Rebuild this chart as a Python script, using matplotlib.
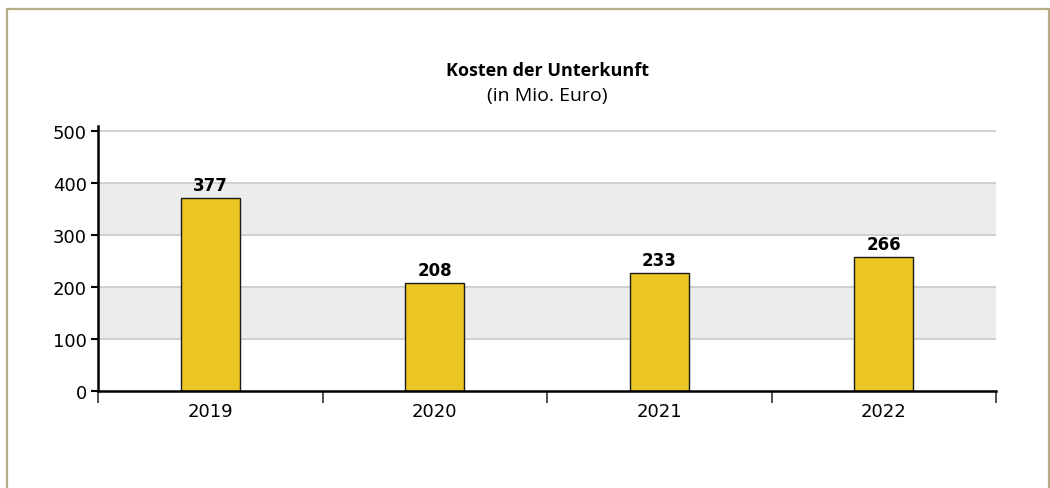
import matplotlib.pyplot as plt
from matplotlib.patches import Rectangle

# Kosten der Unterkunft (in Mio. Euro)
years = ['2019', '2020', '2021', '2022']
bar_heights = [371, 207, 227, 258]   # Balkenhoehe wie im Bild
value_labels = ['377', '208', '233', '266']
y_ticks = [0, 100, 200, 300, 400, 500]
bands = [(100, 200), (300, 400)]

fig = plt.figure(figsize=(10.5, 4.89), dpi=100)
ax = fig.add_axes([98 / 1050, 1 - 392 / 489, 898 / 1050, 265 / 489])

# Rahmen um die ganze Grafik
fig.patches.append(Rectangle((7 / 1050, -0.05), 1042 / 1050, 1 - 9.5 / 489 + 0.05,
                             transform=fig.transFigure, fill=False,
                             edgecolor='#b5ae84', linewidth=1.6))

for lo, hi in bands:
    ax.axhspan(lo, hi, color='#ebecec', zorder=0, lw=0)
for t in y_ticks[1:]:
    ax.axhline(t, color='#cdcdcd', lw=1.3, zorder=1)

x = range(len(years))
ax.bar(x, bar_heights, width=0.265, color='#eac523', edgecolor='#1a1a1a',
       linewidth=1.0, zorder=3)
for i, lab in enumerate(value_labels):
    ax.text(i, bar_heights[i] + 8, lab, ha='center', va='bottom',
            fontsize=12, fontweight='bold', zorder=4)

ax.set_xlim(-0.5, len(years) - 0.5)
ax.set_ylim(0, 510)
ax.set_yticks(y_ticks)
ax.set_xticks([i - 0.5 for i in range(len(years) + 1)])
ax.set_xticklabels([])
ax.set_xticks(list(x), minor=True)
ax.set_xticklabels(years, minor=True)
ax.tick_params(axis='x', which='major', direction='out', length=8.5, width=1.2,
               color='#333333')
ax.tick_params(axis='x', which='minor', length=0, labelsize=13, pad=8)
ax.tick_params(axis='y', direction='out', length=5, width=1.5, labelsize=13, pad=3)

for s in ['top', 'right']:
    ax.spines[s].set_visible(False)
ax.spines['left'].set_linewidth(1.8)
ax.spines['bottom'].set_linewidth(1.8)
ax.spines['left'].set_zorder(5)
ax.spines['bottom'].set_zorder(5)

fig.text(547 / 1050, 1 - 76.5 / 489, 'Kosten der Unterkunft', ha='center',
         va='baseline', fontsize=13, fontweight='bold', family='Open Sans')
fig.text(547 / 1050, 1 - 101.5 / 489, '(in Mio. Euro)', ha='center',
         va='baseline', fontsize=14, family='Open Sans')

fig.savefig('out.png', dpi=100)
